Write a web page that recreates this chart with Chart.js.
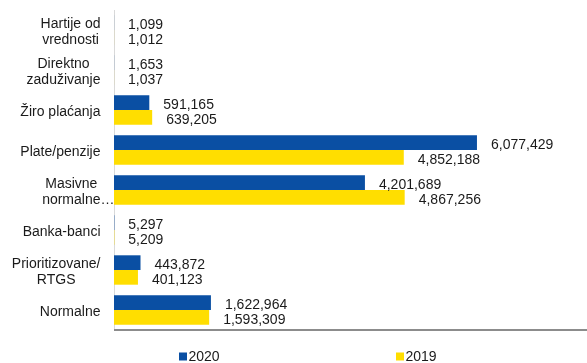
<!DOCTYPE html>
<html>
<head>
<meta charset="utf-8">
<script src="https://cdn.jsdelivr.net/npm/chart.js@4.4.0/dist/chart.umd.min.js"></script>
<style>
  body { margin: 0; background: #ffffff; }
  canvas { display: block; }
</style>
</head>
<body>
<canvas id="myChart" width="587" height="363"></canvas>
<script>
// categories, each one split into the lines shown on the axis
const categories = [
  ["Hartije od", "vrednosti"],
  ["Direktno", "zaduživanje"],
  ["Žiro plaćanja"],
  ["Plate/penzije"],
  ["Masivne", "normalne…"],
  ["Banka-banci"],
  ["Prioritizovane/", "RTGS"],
  ["Normalne"],
];
const seriesNames = ["2020", "2019"];
const values2020 = [1099, 1653, 591165, 6077429, 4201689, 5297, 443872, 1622964];
const values2019 = [1012, 1037, 639205, 4852188, 4867256, 5209, 401123, 1593309];

const BLUE = "#0a4fa3";
const YELLOW = "#ffde00";
const FONT = '14px "Liberation Sans", Arial, sans-serif';
const TEXT = "#1a1a1a";

// y axis labels: lines centred on each other, block right aligned
const tickLabels = {
  id: "tickLabels",
  afterDraw(chart) {
    const y = chart.scales.y;
    const ctx = chart.ctx;
    ctx.save();
    ctx.font = FONT;
    ctx.fillStyle = TEXT;
    ctx.textAlign = "left";
    ctx.textBaseline = "middle";
    categories.forEach((lines, i) => {
      const cy = y.getPixelForValue(i) + 2;
      // ellipsis hangs outside the centred text
      const w = lines.map((l) => ctx.measureText(l.replace(/…$/, "")).width);
      const blockW = Math.max(...w);
      const cx = y.right - 13.5 - blockW / 2;
      lines.forEach((l, j) => {
        ctx.fillText(l, cx - w[j] / 2, cy + (j - (lines.length - 1) / 2) * 16);
      });
    });
    ctx.restore();
  },
};

// values at the end of each bar, plus the grey base line
const valueLabels = {
  id: "valueLabels",
  afterDatasetsDraw(chart) {
    const ctx = chart.ctx;
    const area = chart.chartArea;
    ctx.save();
    ctx.strokeStyle = "#8c8c8c";
    ctx.lineWidth = 2;
    ctx.beginPath();
    ctx.moveTo(area.left, area.bottom);
    ctx.lineTo(area.right, area.bottom);
    ctx.stroke();

    ctx.font = FONT;
    ctx.fillStyle = TEXT;
    ctx.textAlign = "left";
    ctx.textBaseline = "middle";
    chart.data.datasets.forEach((ds, d) => {
      chart.getDatasetMeta(d).data.forEach((bar, i) => {
        ctx.fillText(ds.data[i].toLocaleString("en-US"), bar.x + 14, bar.y + 2.5);
      });
    });
    ctx.restore();
  },
};

// legend spread out under the plot
const legendRow = {
  id: "legendRow",
  afterDraw(chart) {
    const ctx = chart.ctx;
    const xs = [179, 396];
    const cy = 356.5;
    ctx.save();
    ctx.font = FONT;
    ctx.textAlign = "left";
    ctx.textBaseline = "middle";
    chart.data.datasets.forEach((ds, d) => {
      ctx.fillStyle = ds.backgroundColor;
      ctx.fillRect(xs[d], cy - 4, 8, 8);
      ctx.fillStyle = TEXT;
      ctx.fillText(ds.label, xs[d] + 9.5, cy + 1);
    });
    ctx.restore();
  },
};

const ctx = document.getElementById("myChart").getContext("2d");
const myChart = new Chart(ctx, {
  type: "bar",
  data: {
    labels: categories.map((c) => c.join(" ")),
    datasets: [
      {
        label: seriesNames[0],
        data: values2020,
        backgroundColor: BLUE,
        barPercentage: 1,
        categoryPercentage: 0.735,
      },
      {
        label: seriesNames[1],
        data: values2019,
        backgroundColor: YELLOW,
        barPercentage: 1,
        categoryPercentage: 0.735,
      },
    ],
  },
  options: {
    indexAxis: "y",
    responsive: false,
    animation: false,
    layout: { padding: { top: 10, right: 0, bottom: 33, left: 0 } },
    plugins: {
      legend: { display: false },
      tooltip: { enabled: false },
    },
    scales: {
      x: {
        min: 0,
        max: 7920000,
        ticks: { display: false },
        grid: { display: false, drawTicks: false },
        border: { display: false },
      },
      y: {
        ticks: { display: false },
        grid: { display: false, drawTicks: false },
        border: { display: true, color: "#d9d9d9", width: 1 },
        afterFit: (s) => {
          s.width = 114;
        },
      },
    },
  },
  plugins: [tickLabels, valueLabels, legendRow],
});
</script>
</body>
</html>
